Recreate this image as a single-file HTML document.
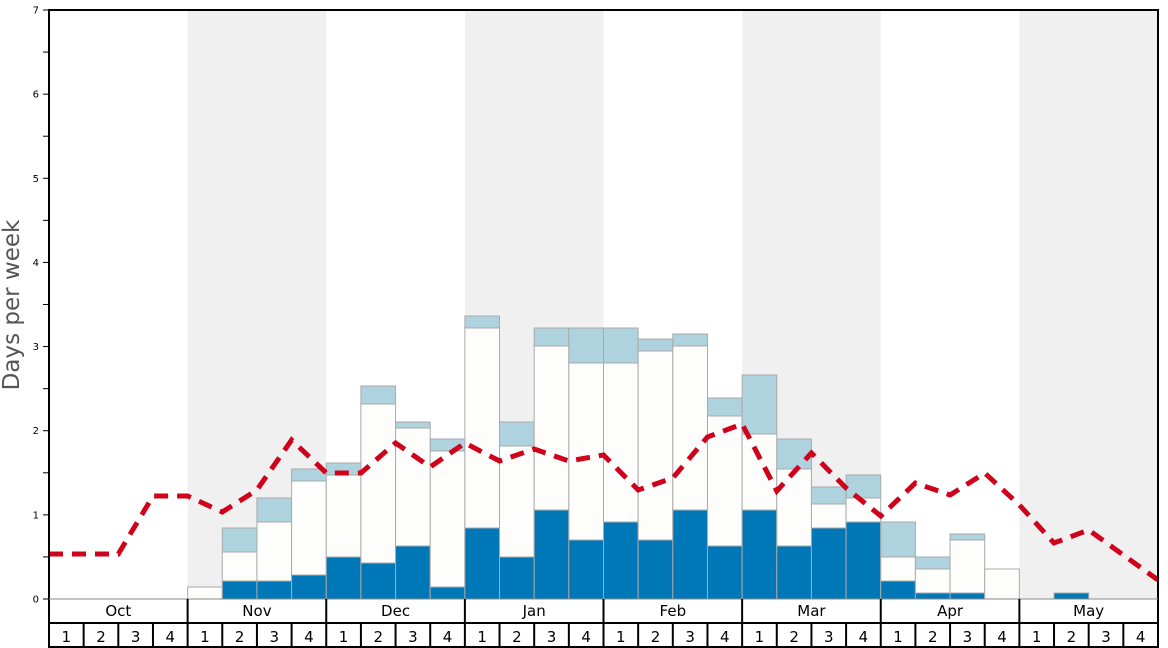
<!DOCTYPE html>
<html><head><meta charset="utf-8"><style>
html,body{margin:0;padding:0;background:#fff;width:1168px;height:648px;overflow:hidden}
svg{display:block;font-family:"DejaVu Sans","Liberation Sans",sans-serif}
</style></head><body>
<svg id="s" width="1168" height="648" xmlns="http://www.w3.org/2000/svg"></svg>
<script>
var L=49,R=1158,T=10,B=599,W=(R-L)/32,U=(B-T)/7;
var o='';
function x(i){return L+W*i}
// bands
[4,12,20,28].forEach(function(m){o+='<rect x="'+x(m)+'" y="'+T+'" width="'+(W*4)+'" height="'+(B-T)+'" fill="#f0f0f0"/>';});
// bars: [week, darkTop, whiteTop, blueTop]
var bars=[[4,599,587,587],[5,581,552,528],[6,581,522,498],[7,575,481,469],[8,557,475,463],[9,563,404,386],[10,546,428,422],[11,587,451,439],
[12,528,328,316],[13,557,446,422],[14,510,346,328],[15,540,363,328],[16,522,363,328],[17,540,351,339],[18,510,346,334],[19,546,416,398],
[20,510,434,375],[21,546,469,439],[22,528,504,487],[23,522,498,475],[24,581,557,522],[25,593,569,557],[26,593,540,534],[27,599,569,569],[29,593,593,593]];
bars.forEach(function(b){var a=x(b[0]),w=W;
 if(b[3]<b[2])o+='<rect x="'+a+'" y="'+b[3]+'" width="'+w+'" height="'+(b[2]-b[3])+'" fill="#aed3df" stroke="#aaa" stroke-width="1"/>';
 if(b[2]<b[1])o+='<rect x="'+a+'" y="'+b[2]+'" width="'+w+'" height="'+(b[1]-b[2])+'" fill="#fdfdfb" stroke="#aaa" stroke-width="1"/>';
 if(b[1]<599)o+='<rect x="'+a+'" y="'+b[1]+'" width="'+w+'" height="'+(599-b[1])+'" fill="#0077b6" stroke="#aaa" stroke-width="1"/>';
});
// red line
var ys=[554,554,554,496,496,512,490,440,473,473,443,467,443,461,449,461,455,490,478,437,424,491,453,488,516,483,495,473,505,543,530,555,580];
var p=ys.map(function(v,i){return x(i).toFixed(1)+','+v}).join(' ');
o+='<polyline points="'+p+'" fill="none" stroke="#d0021b" stroke-width="5" stroke-dasharray="14,9"/>';
// frame
o+='<rect x="'+L+'" y="'+T+'" width="'+(R-L)+'" height="'+(647-T)+'" fill="none" stroke="#000" stroke-width="2"/>';
o+='<line x1="'+L+'" y1="599" x2="'+R+'" y2="599" stroke="#888" stroke-width="1"/>';
o+='<line x1="'+L+'" y1="623" x2="'+R+'" y2="623" stroke="#000" stroke-width="2"/>';
// y ticks
for(var k=0;k<=14;k++){var yy=B-U*k/2;o+='<line x1="43" y1="'+yy+'" x2="'+L+'" y2="'+yy+'" stroke="#000" stroke-width="1"/>';
 if(k%2==0)o+='<text x="39" y="'+(yy+3.5)+'" font-size="10" text-anchor="end">'+(k/2)+'</text>';}
o+='<text transform="translate(19,305) rotate(-90)" font-size="23" fill="#555" text-anchor="middle">Days per week</text>';
var mn=['Oct','Nov','Dec','Jan','Feb','Mar','Apr','May'];
for(var m=0;m<8;m++){var a=x(m*4);
 if(m>0)o+='<line x1="'+a+'" y1="599" x2="'+a+'" y2="647" stroke="#000" stroke-width="2"/>';
 o+='<text x="'+(a+W*2)+'" y="616" font-size="15" text-anchor="middle">'+mn[m]+'</text>';
 for(var w=0;w<4;w++){var b=x(m*4+w);
  if(w>0)o+='<line x1="'+b+'" y1="623" x2="'+b+'" y2="647" stroke="#000" stroke-width="2"/>';
  o+='<text x="'+(b+W/2)+'" y="642" font-size="15" text-anchor="middle">'+(w+1)+'</text>';}}
document.getElementById('s').innerHTML=o;
</script>
</body></html>
